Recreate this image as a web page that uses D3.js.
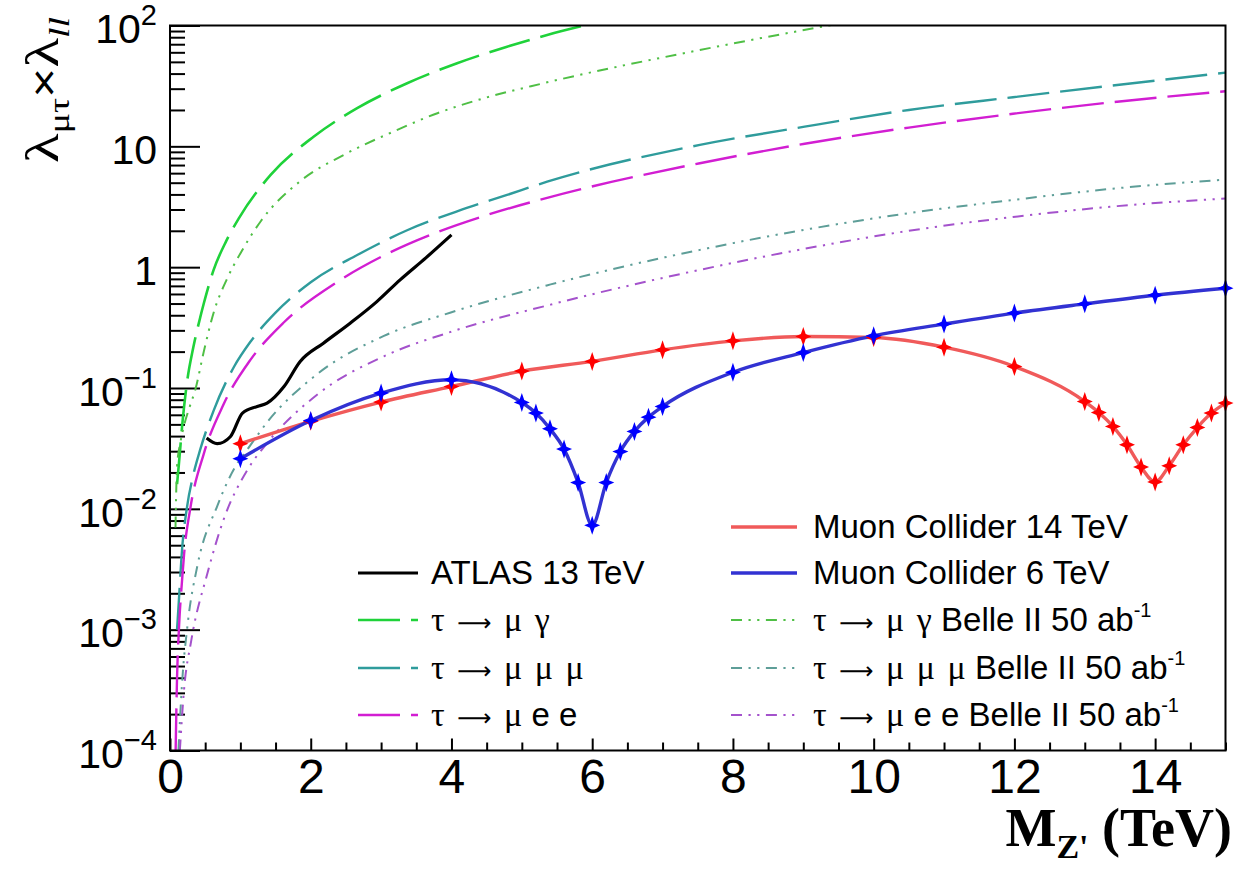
<!DOCTYPE html>
<html>
<head>
<meta charset="utf-8">
<script src="https://cdn.jsdelivr.net/npm/d3@7"></script>
<style>
  body { margin: 0; background: #fff; }
  svg { display: block; }
</style>
</head>
<body>
<script>
// ---- values ----
const mc14X = [1, 2, 3, 4, 5, 6, 7, 8, 9, 10, 11, 12, 13, 13.2, 13.4, 13.6, 13.8, 14, 14.2, 14.4, 14.6, 14.8, 15];
const mc14Y = [0.0346, 0.053, 0.0765, 0.1028, 0.138, 0.166, 0.207, 0.2455, 0.2667, 0.2618, 0.2178, 0.1507,
  0.0773, 0.0627, 0.0481, 0.0339, 0.0222, 0.0167, 0.0227, 0.0339, 0.0471, 0.062, 0.075];

const mc6X = [1, 2, 3, 4, 5, 5.2, 5.4, 5.6, 5.8, 6, 6.2, 6.4, 6.6, 6.8, 7, 8, 9, 10, 11, 12, 13, 14, 15];
const mc6Y = [0.026, 0.0538, 0.0907, 0.117, 0.0759, 0.062, 0.046, 0.0312, 0.0165, 0.0073, 0.0165, 0.0298,
  0.0437, 0.0574, 0.0703, 0.1349, 0.1966, 0.2703, 0.338, 0.417, 0.497, 0.586, 0.67];

const atlasX = [0.52, 0.67, 0.86, 1.03, 1.24, 1.38, 1.62, 1.85, 2.18, 2.56, 2.94, 3.27, 3.64, 4.0];
const atlasY = [0.0385, 0.0346, 0.0397, 0.062, 0.0703, 0.075, 0.1028, 0.1656, 0.235, 0.344, 0.519, 0.785, 1.2, 1.85];

const muGammaX = [0.1, 0.125, 0.18, 0.245, 0.33, 0.43, 0.48, 0.62, 0.8, 0.98, 1.43, 2.04, 2.66, 3.37, 4.08, 4.79, 5.36, 6.1];
const muGammaY = [0.016, 0.023, 0.054, 0.115, 0.215, 0.385, 0.5, 0.95, 1.65, 2.55, 5.8, 12, 20.7, 33.3, 48.7, 66.8, 83.5, 107];

const muGammaBelleX = [0.078, 0.1, 0.15, 0.196, 0.28, 0.36, 0.48, 0.62, 0.81, 1.0, 1.29, 1.86, 2.47, 3.13, 3.8, 4.46, 5.31, 7.53, 9.4];
const muGammaBelleY = [0.007, 0.0224, 0.036, 0.048, 0.07, 0.097, 0.2, 0.42, 0.8, 1.3, 2.4, 5.2, 8.5, 12.9, 18.8, 25.0, 33.3, 62.7, 101];

const muMuMuX = [0.1, 0.125, 0.17, 0.24, 0.33, 0.43, 0.62, 0.91, 1.14, 1.5, 2.0, 2.66, 3.37, 4.08, 4.79, 5.36, 7.53, 9.02, 10.5, 11.98, 13.46, 15];
const muMuMuY = [0.001, 0.0017, 0.0045, 0.0102, 0.019, 0.031, 0.065, 0.15, 0.24, 0.42, 0.75, 1.26, 2.02, 2.9, 3.96, 5.1, 10.27, 14.55, 20.0, 25.5, 32.2, 40.7];

const muEEX = [0.08, 0.1, 0.13, 0.17, 0.2, 0.29, 0.48, 0.76, 1.14, 1.62, 2.4, 3.04, 3.75, 4.46, 5.36, 7.53, 9.02, 10.5, 11.98, 13.46, 15];
const muEEY = [0.0001, 0.0004, 0.0011, 0.0025, 0.0042, 0.0102, 0.0285, 0.073, 0.17, 0.35, 0.77, 1.25, 1.9, 2.65, 3.75, 7.25, 10.5, 14.3, 18.6, 23.4, 28.6];

const muMuMuBelleX = [0.12, 0.17, 0.25, 0.39, 0.67, 0.95, 1.1, 1.38, 2.09, 3.04, 3.98, 5.41, 7.53, 9.02, 10.5, 11.98, 13.46, 15];
const muMuMuBelleY = [0.0001, 0.00035, 0.0011, 0.0034, 0.0105, 0.0235, 0.031, 0.052, 0.13, 0.27, 0.42, 0.72, 1.39, 2.04, 2.8, 3.6, 4.5, 5.3];

const muEEBelleX = [0.14, 0.2, 0.3, 0.53, 0.76, 1.1, 1.38, 2.09, 3.04, 3.98, 5.41, 7.53, 9.02, 10.5, 11.98, 13.46, 15];
const muEEBelleY = [0.0001, 0.00032, 0.0008, 0.0029, 0.0081, 0.021, 0.035, 0.088, 0.183, 0.29, 0.49, 0.95, 1.42, 2.0, 2.6, 3.2, 3.7];

const xTickValues = [0, 2, 4, 6, 8, 10, 12, 14];
const xTickLabels = ['0', '2', '4', '6', '8', '10', '12', '14'];
const yTickValues = [1e-4, 1e-3, 1e-2, 1e-1, 1, 10, 100];
const yTickLabels = [['10', '\u22124'], ['10', '\u22123'], ['10', '\u22122'], ['10', '\u22121'], ['1', ''], ['10', ''], ['10', '2']];

// ---- drawing ----
const width = 1245;
const height = 869;
const sans = '"Liberation Sans", Arial, Helvetica, sans-serif';
const serif = '"Liberation Serif", "Times New Roman", serif';

const svg = d3.select('body').append('svg')
  .attr('width', width)
  .attr('height', height);

const x = d3.scaleLinear().domain([0, 15]).range([170, 1225.5]);
const y = d3.scaleLog().domain([1e-4, 100]).range([750.5, 25.5]);

svg.append('clipPath').attr('id', 'plot')
  .append('rect')
  .attr('x', x(0)).attr('y', y(100))
  .attr('width', x(15) - x(0)).attr('height', y(1e-4) - y(100));

// minor ticks
const yMinor = [];
for (let e = -4; e < 2; e++) for (let k = 2; k <= 9; k++) yMinor.push(k * Math.pow(10, e));
const xMinor = d3.range(0, 15.01, 0.5).filter((v) => v % 2 !== 0);

svg.append('g')
  .attr('transform', `translate(${x(0)},0)`)
  .call(d3.axisLeft(y).tickValues(yMinor).tickSize(-15).tickFormat(''))
  .call((g) => g.select('.domain').remove())
  .selectAll('line').attr('stroke', '#000').attr('stroke-width', 2);

svg.append('g')
  .attr('transform', `translate(0,${y(1e-4)})`)
  .call(d3.axisBottom(x).tickValues(xMinor).tickSize(-8).tickFormat(''))
  .call((g) => g.select('.domain').remove())
  .selectAll('line').attr('stroke', '#000').attr('stroke-width', 2);

// major y axis
const yAxis = svg.append('g')
  .attr('transform', `translate(${x(0)},0)`)
  .call(d3.axisLeft(y).tickValues(yTickValues).tickSize(-30).tickPadding(13).tickFormat(''));
yAxis.select('.domain').remove();
yAxis.selectAll('line').attr('stroke', '#000').attr('stroke-width', 2);
yAxis.selectAll('.tick text')
  .attr('font-family', sans)
  .attr('font-size', 41)
  .attr('fill', '#000')
  .attr('dy', '0.42em')
  .each(function (d, i) {
    const t = d3.select(this);
    t.append('tspan').text(yTickLabels[i][0]);
    if (yTickLabels[i][1]) {
      t.append('tspan').attr('dy', '-0.62em').attr('font-size', 29).text(yTickLabels[i][1]);
    }
  });

// major x axis
const xAxis = svg.append('g')
  .attr('transform', `translate(0,${y(1e-4)})`)
  .call(d3.axisBottom(x).tickValues(xTickValues).tickSize(-12).tickPadding(8)
    .tickFormat((d, i) => xTickLabels[i]));
xAxis.select('.domain').remove();
xAxis.selectAll('line').attr('stroke', '#000').attr('stroke-width', 2);
xAxis.selectAll('text')
  .attr('font-family', sans)
  .attr('font-size', 48)
  .attr('fill', '#000');

// curves
const line = d3.line()
  .x((d) => x(d[0]))
  .y((d) => y(d[1]))
  .curve(d3.curveMonotoneX);

const longDash = '42,11';
const dashDotDot = '11,6.5,2.2,6.5,2.2,6.5';

const series = [
  { xs: muGammaX, ys: muGammaY, color: '#1fd23a', width: 2.6, dash: longDash },
  { xs: muGammaBelleX, ys: muGammaBelleY, color: '#4fbf45', width: 2, dash: dashDotDot },
  { xs: muMuMuX, ys: muMuMuY, color: '#2f9c9c', width: 2.4, dash: longDash },
  { xs: muEEX, ys: muEEY, color: '#d21ed2', width: 2.4, dash: longDash },
  { xs: muMuMuBelleX, ys: muMuMuBelleY, color: '#5e9e98', width: 2, dash: dashDotDot },
  { xs: muEEBelleX, ys: muEEBelleY, color: '#a452cc', width: 2, dash: dashDotDot },
  { xs: atlasX, ys: atlasY, color: '#000', width: 3.2, dash: null },
  { xs: mc14X, ys: mc14Y, color: '#f05a5a', width: 3.4, dash: null },
  { xs: mc6X, ys: mc6Y, color: '#3232d2', width: 3.4, dash: null },
];

const plot = svg.append('g').attr('clip-path', 'url(#plot)');

plot.selectAll('path.curve')
  .data(series)
  .enter()
  .append('path')
  .attr('class', 'curve')
  .attr('d', (s) => line(s.xs.map((v, i) => [v, s.ys[i]])))
  .attr('fill', 'none')
  .attr('stroke', (s) => s.color)
  .attr('stroke-width', (s) => s.width)
  .attr('stroke-dasharray', (s) => s.dash);

// four-pointed star markers
function star(cx, cy) {
  const rx = 8, ry = 9.5, r = 2.4;
  return `M${cx},${cy - ry}L${cx + r},${cy - r}L${cx + rx},${cy}L${cx + r},${cy + r}` +
    `L${cx},${cy + ry}L${cx - r},${cy + r}L${cx - rx},${cy}L${cx - r},${cy - r}Z`;
}

const markerSets = [
  { xs: mc14X, ys: mc14Y, color: '#ff0000' },
  { xs: mc6X, ys: mc6Y, color: '#0000ff' },
];
markerSets.forEach((m) => {
  svg.append('g')
    .selectAll('path')
    .data(m.xs.map((v, i) => [v, m.ys[i]]))
    .enter()
    .append('path')
    .attr('d', (d) => star(x(d[0]), y(d[1])))
    .attr('fill', m.color);
});

// frame
svg.append('rect')
  .attr('x', x(0)).attr('y', y(100))
  .attr('width', x(15) - x(0)).attr('height', y(1e-4) - y(100))
  .attr('fill', 'none')
  .attr('stroke', '#000')
  .attr('stroke-width', 2);

// legend  (part kinds: 0 latin, 1 greek, 2 superscript, 3 arrow)
const arrowParts = (greek, tail) => [['\u03c4 ', 1], ['\u27f6', 3], [' ' + greek, 1]].concat(tail);
const legendRows = [
  { col: 0, row: 1, color: '#000', width: 3.2, dash: null, parts: [['ATLAS 13 TeV', 0]] },
  { col: 0, row: 2, color: '#1fd23a', width: 2.6, dash: longDash, parts: arrowParts('\u03bc \u03b3', []) },
  { col: 0, row: 3, color: '#2f9c9c', width: 2.4, dash: longDash, parts: arrowParts('\u03bc \u03bc \u03bc', []) },
  { col: 0, row: 4, color: '#d21ed2', width: 2.4, dash: longDash, parts: arrowParts('\u03bc', [[' e e', 0]]) },
  { col: 1, row: 0, color: '#f05a5a', width: 3.4, dash: null, parts: [['Muon Collider 14 TeV', 0]] },
  { col: 1, row: 1, color: '#3232d2', width: 3.4, dash: null, parts: [['Muon Collider 6 TeV', 0]] },
  { col: 1, row: 2, color: '#4fbf45', width: 2, dash: dashDotDot,
    parts: arrowParts('\u03bc \u03b3', [[' Belle II 50 ab', 0], ['-1', 2]]) },
  { col: 1, row: 3, color: '#5e9e98', width: 2, dash: dashDotDot,
    parts: arrowParts('\u03bc \u03bc \u03bc', [[' Belle II 50 ab', 0], ['-1', 2]]) },
  { col: 1, row: 4, color: '#a452cc', width: 2, dash: dashDotDot,
    parts: arrowParts('\u03bc', [[' e e Belle II 50 ab', 0], ['-1', 2]]) },
];
const colX = [[358, 418, 431], [731, 797, 813]];
const rowY = [527, 573, 620, 668, 715];

const legend = svg.append('g');
legendRows.forEach((e) => {
  const [x0, x1, tx] = colX[e.col];
  const yy = rowY[e.row];
  legend.append('line')
    .attr('x1', x0).attr('x2', x1)
    .attr('y1', yy).attr('y2', yy)
    .attr('stroke', e.color)
    .attr('stroke-width', e.width)
    .attr('stroke-dasharray', e.dash);
  const t = legend.append('text')
    .attr('x', tx).attr('y', yy + 11)
    .attr('font-family', sans)
    .attr('font-size', 33)
    .attr('fill', '#000');
  e.parts.forEach((p) => {
    const s = t.append('tspan').text(p[0]);
    if (p[1] === 1) s.attr('font-family', serif).attr('font-size', 34).attr('word-spacing', 4);
    if (p[1] === 2) s.attr('font-size', 20).attr('dy', -14);
    if (p[1] === 3) s.attr('font-family', '"DejaVu Sans", sans-serif').attr('font-size', 24);
  });
});

// axis titles
svg.append('text')
  .attr('x', 1232).attr('y', 846)
  .attr('text-anchor', 'end')
  .attr('font-family', serif)
  .attr('font-weight', 'bold')
  .attr('font-size', 54)
  .call((t) => {
    t.append('tspan').text('M');
    t.append('tspan').attr('font-size', 34).attr('dy', 12).text('Z\'');
    t.append('tspan').attr('dy', -12).text(' (TeV)');
  });

svg.append('text')
  .attr('transform', 'translate(58,90) scale(1,1.3) rotate(-90)')
  .attr('text-anchor', 'middle')
  .attr('font-family', serif)
  .attr('font-size', 47)
  .call((t) => {
    t.append('tspan').text('\u03bb');
    t.append('tspan').attr('font-size', 29).attr('dy', 11).text('\u03bc\u03c4');
    t.append('tspan').attr('dy', -11).attr('font-family', sans).attr('font-size', 40).text('\u00d7');
    t.append('tspan').text('\u03bb');
    t.append('tspan').attr('font-size', 29).attr('font-style', 'italic').attr('dy', 11).text('ll');
  });
</script>
</body>
</html>
